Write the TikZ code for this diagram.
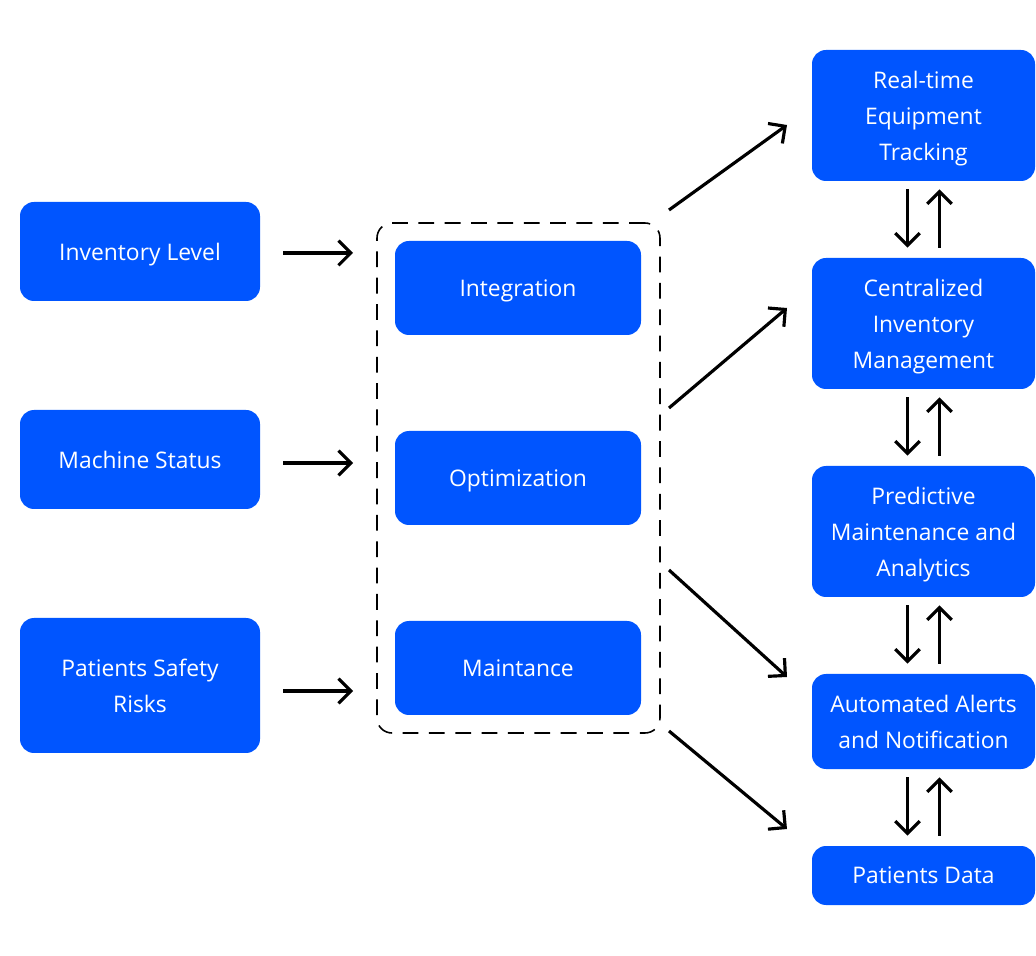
\documentclass[tikz,border=0pt]{standalone}
\usepackage{fontspec}
\setmainfont{Open Sans}
\usetikzlibrary{arrows.meta}
\definecolor{bl}{HTML}{0055FF}
\begin{document}
\begin{tikzpicture}[x=0.02cm,y=-0.02cm,
 box/.style={fill=bl,draw=none,rounded corners=0.28cm,text=white,align=center,font=\fontsize{13}{20.5}\selectfont,inner sep=0pt,text depth=0pt},
 arr/.style={line width=1.8pt,-{Straight Barb[length=7pt,width=14pt,line width=1.8pt]}}]
\useasboundingbox (0,0) rectangle (1036,956);
\newcommand\bx[6]{\node[box,minimum width=#4*0.02cm,minimum height=#5*0.02cm] (#1) at (#2,#3) {#6};}
\bx{inv}{140}{251.5}{240}{99}{Inventory Level}
\bx{mach}{140}{459.5}{240}{99}{Machine Status}
\bx{pat}{140}{685.5}{240}{135}{Patients Safety\\Risks}
\bx{int}{518}{288}{246}{94}{Integration}
\bx{opt}{518}{478}{246}{94}{Optimization}
\bx{mai}{518}{668}{246}{94}{Maintance}
\node[draw,dashed,dash pattern=on 9pt off 6pt,line width=0.9pt,rounded corners=0.3cm,minimum width=283*0.02cm,minimum height=510*0.02cm] (grp) at (518.5,478) {};
\bx{rt}{923.5}{115.5}{223}{131}{Real-time\\Equipment\\Tracking}
\bx{ci}{923.5}{323.5}{223}{131}{Centralized\\Inventory\\Management}
\bx{pm}{923.5}{531.5}{223}{131}{Predictive\\Maintenance and\\Analytics}
\bx{aa}{923.5}{721.5}{223}{95}{Automated Alerts\\and Notification}
\bx{pd}{923.5}{875.5}{223}{59}{Patients Data}
% left arrows
\foreach \n/\y in {a/253,b/463,c/691}{\coordinate (s\n) at (283,\y); \coordinate (e\n) at (353,\y); \draw[arr] (s\n) -- (e\n);}
% diagonal arrows
\coordinate (d1s) at (669,210); \coordinate (d1e) at (787,125);
\coordinate (d2s) at (669,408); \coordinate (d2e) at (787,308);
\coordinate (d3s) at (669,570); \coordinate (d3e) at (787,677);
\coordinate (d4s) at (669,731); \coordinate (d4e) at (787,829);
\foreach \i in {1,...,4}{\draw[arr] (d\i s) -- (d\i e);}
% vertical pairs
\foreach \a/\b in {rt/ci,ci/pm,pm/aa,aa/pd}{
 \draw[arr] ([xshift=-16*0.02cm,yshift=-8*0.02cm]\a.south) -- ([xshift=-16*0.02cm,yshift=10*0.02cm]\b.north);
 \draw[arr] ([xshift=16*0.02cm,yshift=10*0.02cm]\b.north) -- ([xshift=16*0.02cm,yshift=-8*0.02cm]\a.south);}
\end{tikzpicture}
\end{document}
